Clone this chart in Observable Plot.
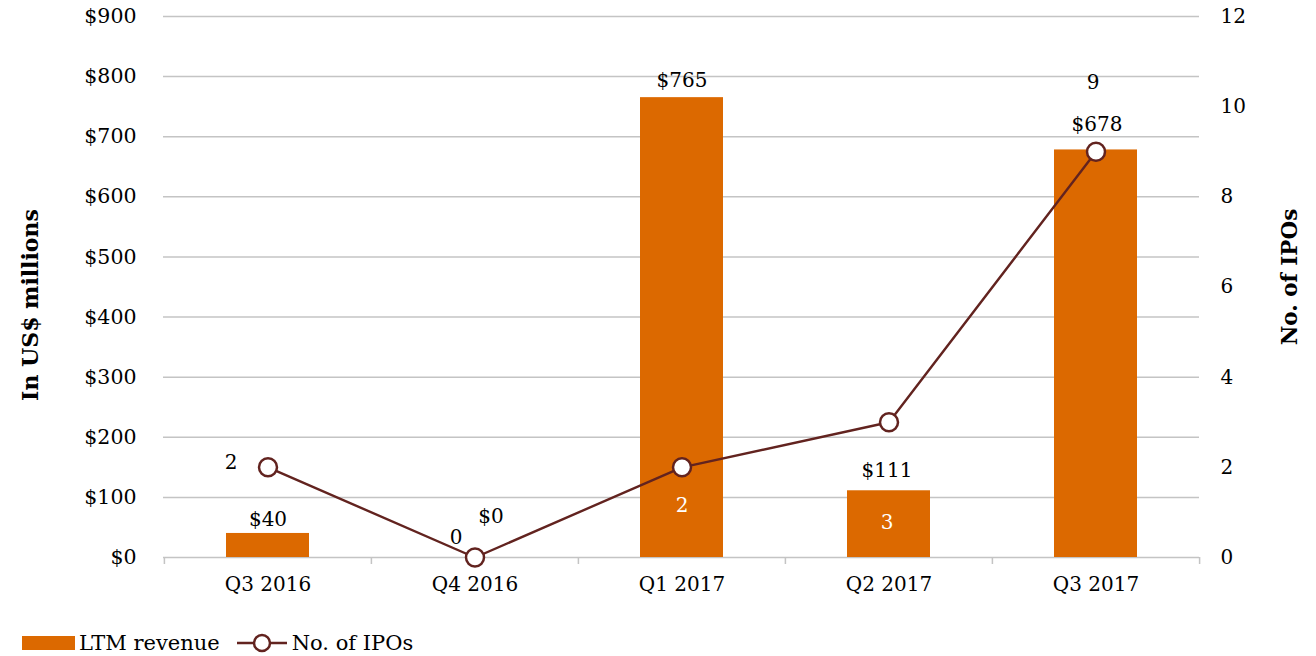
<!DOCTYPE html>
<html>
<head>
<meta charset="utf-8">
<script src="https://cdn.jsdelivr.net/npm/d3@7"></script>
<script src="https://cdn.jsdelivr.net/npm/@observablehq/plot@0.6"></script>
<style>
  html, body { margin: 0; padding: 0; background: #fff; }
  body { font-family: "DejaVu Serif", serif; color: #000; width: 1316px; height: 656px; overflow: hidden; }
  #legend { display: flex; align-items: center; height: 46px; padding-left: 22px; font-size: 21px; }
  #legend .item { display: flex; align-items: center; margin-right: 16px; }
</style>
</head>
<body>
<div id="chart"></div>
<div id="legend"></div>
<script>
// ---- data ----
const quarters = ["Q3 2016", "Q4 2016", "Q1 2017", "Q2 2017", "Q3 2017"];
const revenue = [40, 0, 765, 111, 678];        // LTM revenue, US$ millions
const ipos = [2, 0, 2, 3, 9];                   // No. of IPOs
const revenueTicks = [0, 100, 200, 300, 400, 500, 600, 700, 800, 900];
const ipoTicks = [0, 2, 4, 6, 8, 10, 12];
const seriesNames = ["LTM revenue", "No. of IPOs"];
const axisTitles = ["In US$ millions", "No. of IPOs"];

// ---- styling / layout ----
const W = 1316, H = 620;
const mL = 163, mR = 117, mT = 16, mB = 63;
const ORANGE = "#DC6900", MAROON = "#62231F", GRID = "#c4c4c4";
const FONT = "DejaVu Serif";
const revMax = revenueTicks[revenueTicks.length - 1];
const ipoMax = ipoTicks[ipoTicks.length - 1];
const ratio = revMax / ipoMax;
const step = (W - mL - mR) / quarters.length;
// manual label nudges (pixels) as in the reference
const revLabelNudge = [[0, -14], [16, -41], [0, -17], [-2, -20], [1, -25]];
const ipoLabelNudge = [[-37, -5], [-19, -20], [0, 38], [-2, 100], [-3, -69]];
const ipoLabelFill = ["#000", "#000", "#fff", "#fff", "#000"];

const rows = quarters.map((q, i) => ({q, rev: revenue[i], ipo: ipos[i], ipoScaled: ipos[i] * ratio}));

const marks = [
  Plot.gridY(revenueTicks, {stroke: GRID, strokeOpacity: 1, strokeWidth: 1.5}),
  Plot.barY(rows, {x: "q", y: "rev", fill: ORANGE}),
  Plot.ruleX(quarters, {x: d => d, dx: -step / 2, y1: 0, y2: 0, insetBottom: -7, stroke: GRID, strokeWidth: 1.5}),
  Plot.ruleX([quarters[quarters.length - 1]], {x: d => d, dx: step / 2, y1: 0, y2: 0, insetBottom: -7, stroke: GRID, strokeWidth: 1.5}),
  Plot.line(rows, {x: "q", y: "ipoScaled", stroke: MAROON, strokeWidth: 2.4}),
  Plot.dot(rows, {x: "q", y: "ipoScaled", r: 9, fill: "#fff", stroke: MAROON, strokeWidth: 2.5}),
  Plot.axisY(revenueTicks, {anchor: "left", tickSize: 0, tickPadding: 27, tickFormat: d => "$" + d, fontSize: 20.5, label: null, fill: "#000"}),
  Plot.axisY(ipoTicks.map(v => v * ratio), {anchor: "right", tickSize: 0, tickPadding: 21, tickFormat: d => String(Math.round(d / ratio)), fontSize: 20, label: null, fill: "#000"}),
  Plot.axisX({tickSize: 0, tickPadding: 19, fontSize: 20, label: null, fill: "#000"}),
  Plot.text([axisTitles[0]], {frameAnchor: "left", textAnchor: "middle", text: d => d, rotate: -90, dx: -133, dy: 18, fontSize: 22, fontWeight: "bold", fill: "#000"}),
  Plot.text([axisTitles[1]], {frameAnchor: "right", textAnchor: "middle", text: d => d, rotate: -90, dx: 91, dy: -10, fontSize: 21.5, fontWeight: "bold", fill: "#000"})
];

rows.forEach((d, i) => {
  marks.push(Plot.text([d], {x: "q", y: "rev", text: r => "$" + r.rev, dx: revLabelNudge[i][0], dy: revLabelNudge[i][1], fontSize: 20, fill: "#000", lineAnchor: "middle"}));
  marks.push(Plot.text([d], {x: "q", y: "ipoScaled", text: r => String(r.ipo), dx: ipoLabelNudge[i][0], dy: ipoLabelNudge[i][1], fontSize: 20, fill: ipoLabelFill[i], lineAnchor: "middle"}));
});

const chart = Plot.plot({
  width: W, height: H,
  marginLeft: mL, marginRight: mR, marginTop: mT, marginBottom: mB,
  style: {fontFamily: FONT, fontSize: "20px", background: "#fff", color: "#000", overflow: "visible"},
  x: {type: "band", domain: quarters, paddingInner: 0.6, paddingOuter: 0.3},
  y: {domain: [0, revMax]},
  marks
});
document.getElementById("chart").appendChild(chart);

// ---- legend ----
const legend = document.getElementById("legend");
legend.innerHTML = `
  <span class="item"><svg width="53" height="14" style="margin-right:4px"><rect width="53" height="14" fill="${ORANGE}"/></svg>${seriesNames[0]}</span>
  <span class="item"><svg width="52" height="22" style="margin-right:4px"><line x1="1" y1="11" x2="51" y2="11" stroke="${MAROON}" stroke-width="2.4"/><circle cx="26" cy="11" r="8" fill="#fff" stroke="${MAROON}" stroke-width="2.5"/></svg>${seriesNames[1]}</span>`;
</script>
</body>
</html>
